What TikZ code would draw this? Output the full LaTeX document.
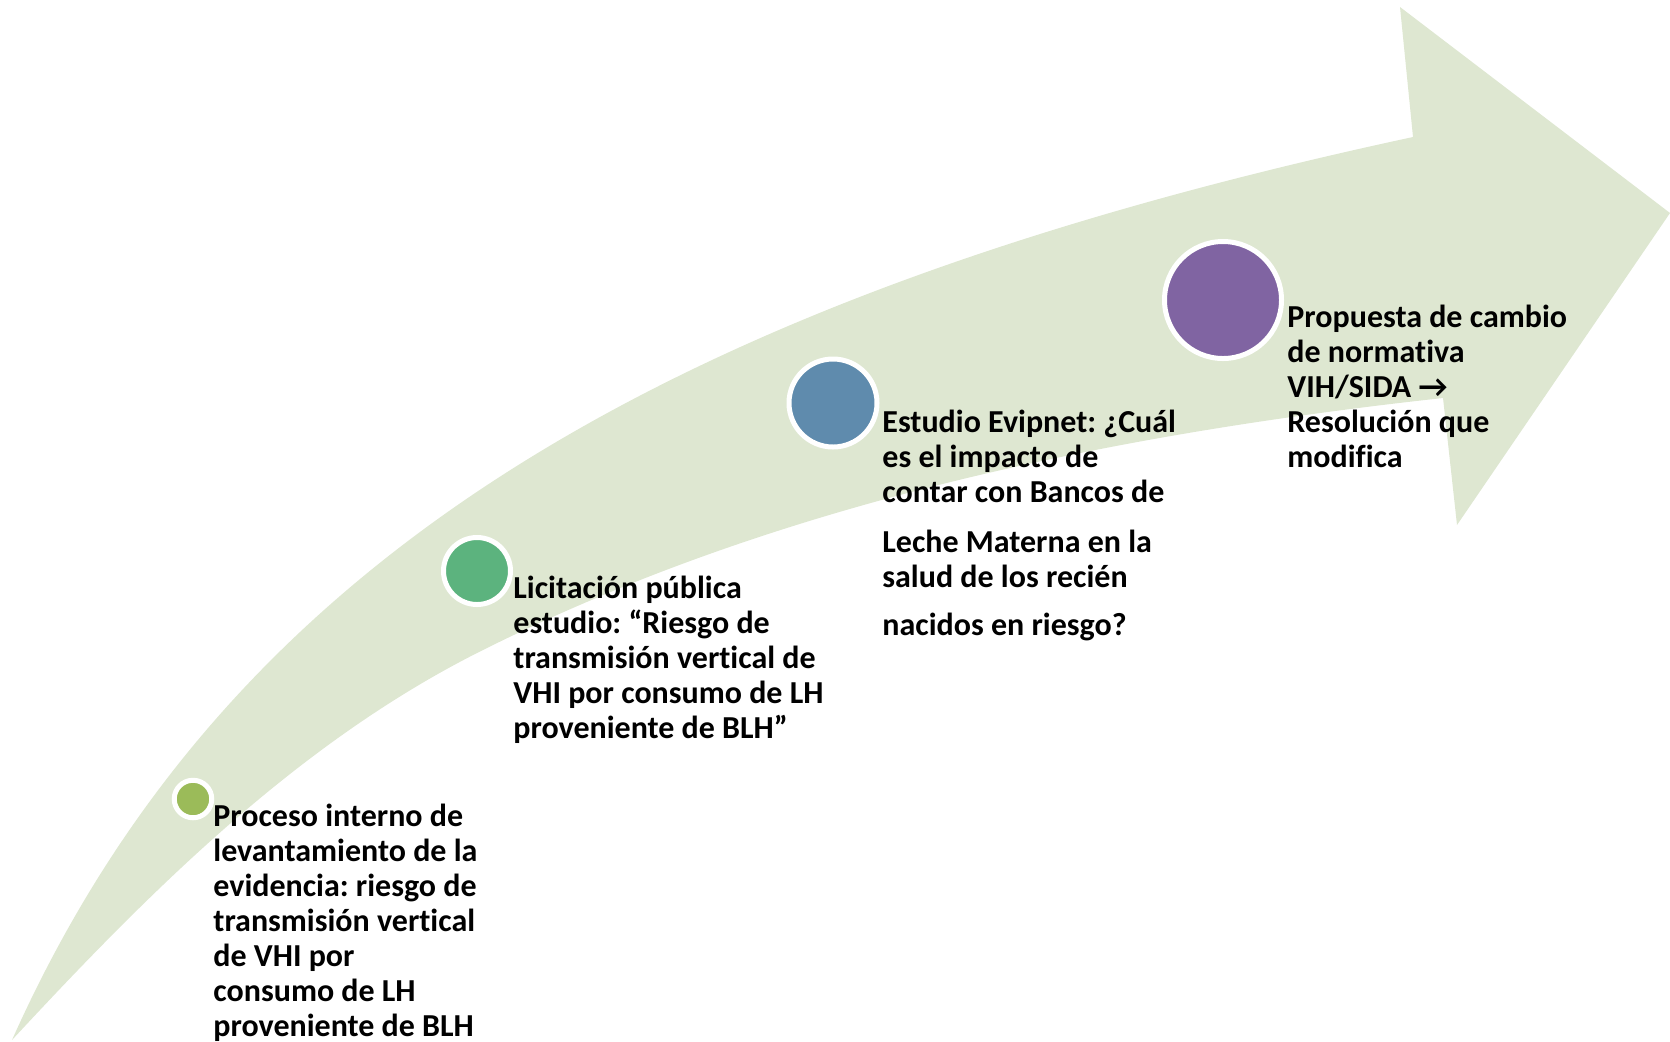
\documentclass[tikz,border=0pt]{standalone}
\usepackage{fontspec}
\setmainfont{Carlito}[Ligatures=NoCommon]
\definecolor{banda}{RGB}{222,231,209}
\definecolor{verdeA}{RGB}{155,187,89}
\definecolor{verdeB}{RGB}{92,179,126}
\definecolor{azul}{RGB}{95,139,173}
\definecolor{morado}{RGB}{128,100,162}
\frenchspacing
\begin{document}
\begin{tikzpicture}[x=0.5pt,y=-0.5pt,
    hito/.style={circle,draw=white,line width=2.5pt,inner sep=0pt},
    paso/.style={anchor=base west,inner sep=0pt,align=left,
      font=\fontsize{16}{17.5}\selectfont\bfseries}]
  \useasboundingbox (0,0) rectangle (1670,1041);
  % curved arrow
  \fill[banda] (12,1040) .. controls (220,574) and (641,303) .. (1413,137)
    -- (1400,7) -- (1670,213) -- (1457,525) -- (1443,398)
    .. controls (1114,434) and (779,502) .. (483,650)
    .. controls (300,741) and (151,890) .. (12,1040) -- cycle;
  \draw
    (193,799) node[hito,fill=verdeA,minimum size=18.75pt] (c1){}
    (477,571) node[hito,fill=verdeB,minimum size=33.5pt] (c2){}
    (833,403) node[hito,fill=azul,minimum size=44pt] (c3){}
    (1223,300) node[hito,fill=morado,minimum size=58.5pt] (c4){};
  % text anchored at the baseline of its last line
  \begin{scope}[every node/.style={paso}]
    \node (t1) at (213,1036) {Proceso interno de\\levantamiento de la\\evidencia: riesgo de\\transmisión vertical\\de VHI por\\consumo de LH\\proveniente de BLH};
    \node (t2) at (513,738) {Licitación pública\\estudio: “Riesgo de\\transmisión vertical de\\VHI por consumo de LH\\proveniente de BLH”};
    \node (t3) at (882,635) {Estudio Evipnet: ¿Cuál\\es el impacto de\\contar con Bancos de\\[7.5pt]Leche Materna en la\\salud de los recién\\[6.5pt]nacidos en riesgo?};
    \node (t4) at (1287,467) {Propuesta de cambio\\de normativa\\VIH/SIDA →\\Resolución que\\modifica};
  \end{scope}
\end{tikzpicture}
\end{document}
